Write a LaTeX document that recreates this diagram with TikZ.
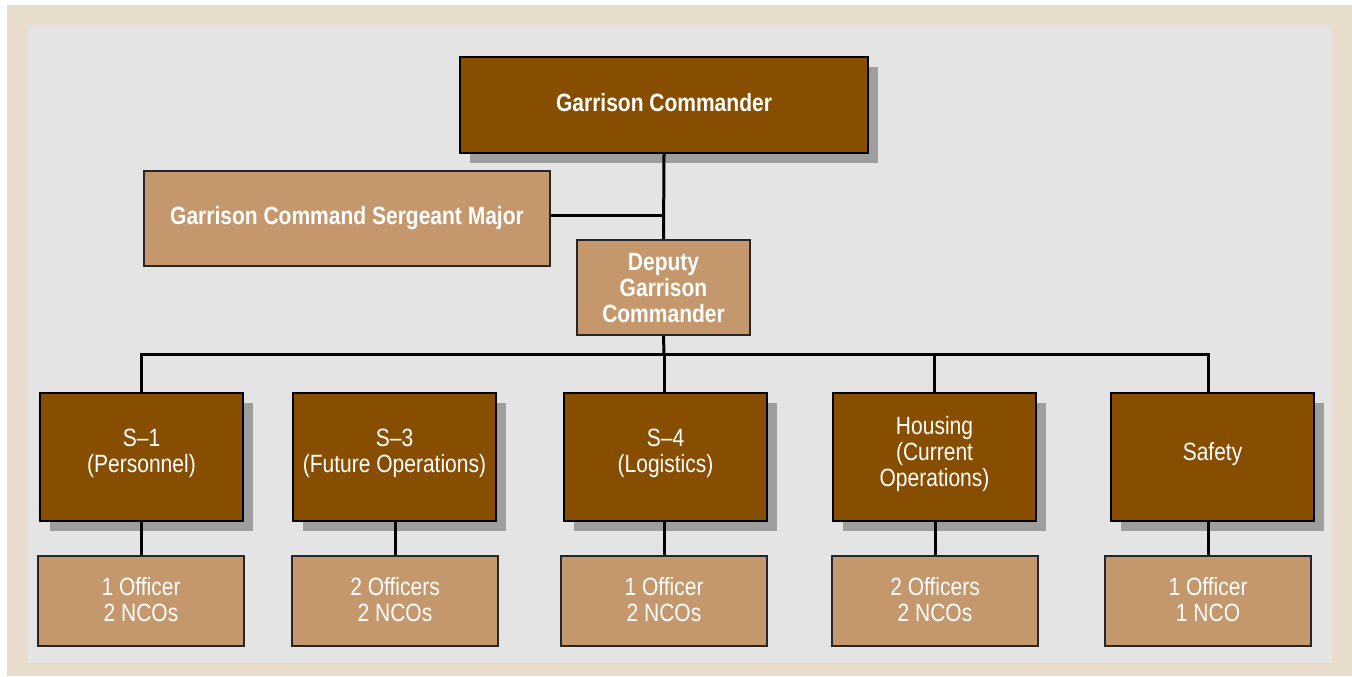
\documentclass[tikz,border=0pt]{standalone}
\usepackage{fontspec}
\setmainfont{Liberation Sans}[FakeStretch=0.84]
\usetikzlibrary{shadows}
\definecolor{darkbrown}{HTML}{874D00}
\definecolor{tan}{HTML}{C4976C}
\definecolor{panel}{HTML}{E4E4E4}
\definecolor{frame}{HTML}{E8DCCC}
\definecolor{shade}{HTML}{9E9E9E}
\tikzset{
  darkbox/.style={draw=black, line width=1pt, fill=darkbrown, text=white,
    align=center, inner sep=0pt, font=\fontsize{12.5}{13}\selectfont, text depth=6pt,
    drop shadow={shadow xshift=5pt, shadow yshift=-5pt, fill=shade, opacity=1}},
  lightbox/.style={draw=black!85, line width=1pt, fill=tan, text=white,
    align=center, inner sep=0pt, font=\fontsize{12.5}{13}\selectfont, text depth=2pt},
  link/.style={draw=black, line width=1.5pt}
}
\begin{document}
\begin{tikzpicture}[x=0.5pt, y=-0.5pt]
\useasboundingbox (0,0) rectangle (1352,676);
\fill[white] (0,0) rectangle (1352,676);
\fill[frame] (7,5) rectangle (1352,676);
\fill[panel] (28,26) rectangle (1332,663);

% top
\node[darkbox, text depth=3pt, minimum width=204pt, minimum height=48pt, font=\fontsize{12.5}{13}\selectfont\bfseries] (gc) at (664,105) {Garrison Commander};
\node[lightbox, text depth=3.2pt, minimum width=203pt, minimum height=47.5pt, font=\fontsize{12.5}{13}\selectfont\bfseries] (gcsm) at (347,218.5) {Garrison Command Sergeant Major};
\node[lightbox, text depth=0pt, minimum width=86.5pt, minimum height=47.5pt, font=\fontsize{12.5}{13}\selectfont\bfseries] (dgc) at (663.5,287.5) {Deputy\\Garrison\\Commander};

\coordinate (j1) at (664,215);
\coordinate (bus) at (664,354);

% staff row
\node[darkbox, minimum width=101.5pt, minimum height=64pt] (s1) at (141.5,457) {S--1\\(Personnel)};
\node[darkbox, minimum width=101.5pt, minimum height=64pt] (s3) at (394.5,457) {S--3\\(Future Operations)};
\node[darkbox, minimum width=101.5pt, minimum height=64pt] (s4) at (665.5,457) {S--4\\(Logistics)};
\node[darkbox, minimum width=101.5pt, minimum height=64pt] (hs) at (934.5,457) {Housing\\(Current\\Operations)};
\node[darkbox, minimum width=101.5pt, minimum height=64pt] (sf) at (1212.5,457) {Safety};

% staffing row
\node[lightbox, minimum width=103pt, minimum height=45pt] (p1) at (141,601) {1 Officer\\2 NCOs};
\node[lightbox, minimum width=103pt, minimum height=45pt] (p3) at (395,601) {2 Officers\\2 NCOs};
\node[lightbox, minimum width=103pt, minimum height=45pt] (p4) at (664,601) {1 Officer\\2 NCOs};
\node[lightbox, minimum width=103pt, minimum height=45pt] (ph) at (935,601) {2 Officers\\2 NCOs};
\node[lightbox, minimum width=103pt, minimum height=45pt] (pf) at (1208,601) {1 Officer\\1 NCO};

% connectors
\draw[link] (gc.south) -- (dgc.north);
\draw[link] (gcsm.east |- j1) -- (j1);
\draw[link] (dgc.south) -- (bus);
\draw[link] (s1.north -| p1.north) |- (bus) -| (pf.north |- sf.north);
\draw[link] (s3.north -| p3.north) -- (s3.north -| p3.north |- bus);
\draw[link] (bus) -- (s4.north -| bus);
\draw[link] (hs.north) -- (hs.north |- bus);
\draw[link] (s1.south -| p1.north) -- (p1.north);
\draw[link] (s3.south -| p3.north) -- (p3.north);
\draw[link] (s4.south -| p4.north) -- (p4.north);
\draw[link] (hs.south -| ph.north) -- (ph.north);
\draw[link] (sf.south -| pf.north) -- (pf.north);
\end{tikzpicture}
\end{document}
